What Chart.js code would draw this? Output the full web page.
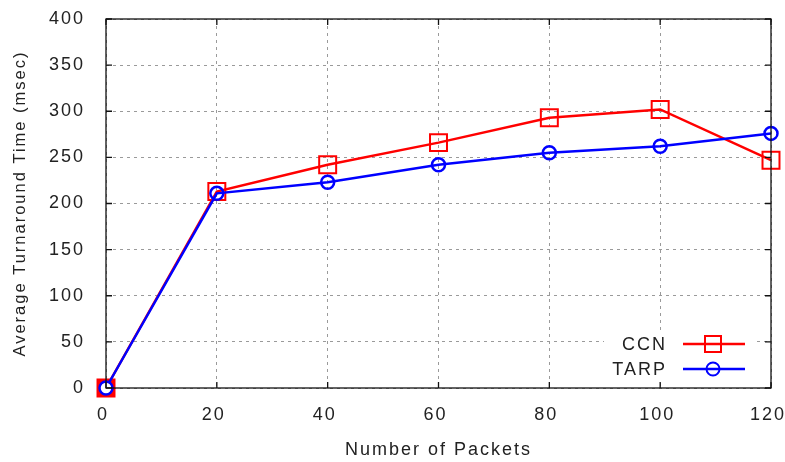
<!DOCTYPE html>
<html>
<head>
<meta charset="utf-8">
<script src="https://cdn.jsdelivr.net/npm/chart.js@4.4.1/dist/chart.umd.min.js"></script>
<style>
  html, body { margin: 0; padding: 0; background: #fff; }
  #wrap { width: 785px; height: 462px; position: relative; }
</style>
</head>
<body>
<div id="wrap"><canvas id="c" width="785" height="462"></canvas></div>
<script>
// ---- data ----
const packets = [0, 20, 40, 60, 80, 100, 120];
const ccnValues = [0, 213, 242, 266, 293, 302, 247];
const tarpValues = [0, 211, 223, 242, 255, 262, 276];
const seriesNames = ['CCN', 'TARP'];
const xTicks = [0, 20, 40, 60, 80, 100, 120];
const yTicks = [0, 50, 100, 150, 200, 250, 300, 350, 400];

const FONT = 'Liberation Sans, Arial, Helvetica, sans-serif';
const SPACING = '2px';

const toPoints = (vals) => packets.map((x, i) => ({ x: x, y: vals[i] }));

const framePlugin = {
  id: 'frame',
  beforeLayout(chart) { chart.ctx.letterSpacing = SPACING; },
  beforeDraw(chart) {
    const ctx = chart.ctx;
    ctx.letterSpacing = SPACING;
    ctx.save();
    ctx.fillStyle = '#fff';
    ctx.fillRect(0, 0, chart.width, chart.height);
    ctx.restore();
  },
  afterDatasetsDraw(chart) {
    const ctx = chart.ctx;
    const a = chart.chartArea;
    const xs = chart.scales.x, ys = chart.scales.y;
    ctx.save();
    ctx.letterSpacing = SPACING;
    // legend box (opaque key, bottom right)
    ctx.fillStyle = '#fff';
    ctx.fillRect(604, 330, 152, 50);
    // frame
    ctx.strokeStyle = '#111';
    ctx.lineWidth = 1.3;
    ctx.setLineDash([]);
    ctx.strokeRect(a.left, a.top, a.right - a.left, a.bottom - a.top);
    // inward ticks
    const tl = 6;
    ctx.beginPath();
    xTicks.forEach(v => {
      const px = xs.getPixelForValue(v);
      ctx.moveTo(px, a.bottom); ctx.lineTo(px, a.bottom - tl);
      ctx.moveTo(px, a.top); ctx.lineTo(px, a.top + tl);
    });
    yTicks.forEach(v => {
      const py = ys.getPixelForValue(v);
      ctx.moveTo(a.left, py); ctx.lineTo(a.left + tl, py);
      ctx.moveTo(a.right, py); ctx.lineTo(a.right - tl, py);
    });
    ctx.stroke();
    const entries = [
      { name: seriesNames[0], color: '#ff0000', shape: 'rect', y: 344 },
      { name: seriesNames[1], color: '#0000ff', shape: 'circle', y: 369 }
    ];
    entries.forEach(e => {
      ctx.fillStyle = '#222';
      ctx.font = '18px ' + FONT;
      ctx.textAlign = 'right';
      ctx.textBaseline = 'middle';
      ctx.fillText(e.name, 667, e.y + 1);
      ctx.strokeStyle = e.color;
      ctx.lineWidth = 2.5;
      ctx.beginPath();
      ctx.moveTo(683, e.y); ctx.lineTo(745, e.y);
      ctx.stroke();
      ctx.lineWidth = 2;
      if (e.shape === 'rect') {
        ctx.strokeRect(713 - 8, e.y - 8, 16, 16);
      } else {
        ctx.beginPath();
        ctx.arc(713, e.y, 6.5, 0, Math.PI * 2);
        ctx.stroke();
      }
    });
    ctx.restore();
  }
};

function noPad(scale) {
  scale.paddingLeft = 0; scale.paddingRight = 0;
  scale.paddingTop = 0; scale.paddingBottom = 0;
}

new Chart(document.getElementById('c'), {
  type: 'line',
  data: {
    datasets: [
      {
        label: seriesNames[0],
        data: toPoints(ccnValues),
        order: 1,
        borderColor: '#ff0000',
        backgroundColor: ccnValues.map((v, i) => i === 0 ? '#ff0000' : 'rgba(0,0,0,0)'),
        borderWidth: 2.5,
        pointStyle: 'rect',
        pointRadius: 12,
        pointBorderWidth: 2,
        pointBorderColor: '#ff0000',
        pointHoverRadius: 12,
        tension: 0,
        clip: false
      },
      {
        label: seriesNames[1],
        data: toPoints(tarpValues),
        order: 0,
        borderColor: '#0000ff',
        backgroundColor: tarpValues.map((v, i) => i === 0 ? '#ffffff' : 'rgba(0,0,0,0)'),
        borderWidth: 2.5,
        pointStyle: 'circle',
        pointRadius: 6.5,
        pointBorderWidth: 2.5,
        pointBorderColor: '#0000ff',
        pointHoverRadius: 6.5,
        tension: 0,
        clip: false
      }
    ]
  },
  options: {
    responsive: false,
    animation: false,
    events: [],
    layout: { padding: { top: 19, right: 13, left: 0, bottom: 0 } },
    plugins: {
      legend: { display: false },
      tooltip: { enabled: false },
      title: { display: false }
    },
    scales: {
      x: {
        type: 'linear',
        min: 0, max: 120,
        afterBuildTicks(scale) { scale.ticks = xTicks.map(v => ({ value: v })); },
        afterFit(scale) { scale.height = 74; noPad(scale); },
        ticks: { color: '#222', font: { family: FONT, size: 18 }, padding: 16, maxRotation: 0, labelOffset: -3 },
        grid: { color: '#9a9a9a', lineWidth: 1, drawTicks: false },
        border: { display: false, dash: [3, 4] },
        title: {
          display: true, text: 'Number of Packets', color: '#222',
          font: { family: FONT, size: 18 }, padding: { top: 0, bottom: 1 }
        }
      },
      y: {
        min: 0, max: 400,
        afterBuildTicks(scale) { scale.ticks = yTicks.map(v => ({ value: v })); },
        afterFit(scale) { scale.width = 106; noPad(scale); },
        ticks: { color: '#222', font: { family: FONT, size: 18 }, padding: 21 },
        grid: { color: '#9a9a9a', lineWidth: 1, drawTicks: false },
        border: { display: false, dash: [3, 4] },
        title: {
          display: true, text: 'Average Turnaround Time (msec)', color: '#222',
          font: { family: FONT, size: 16.5 }, padding: { top: 11, bottom: 0 }
        }
      }
    }
  },
  plugins: [framePlugin]
});
</script>
</body>
</html>
